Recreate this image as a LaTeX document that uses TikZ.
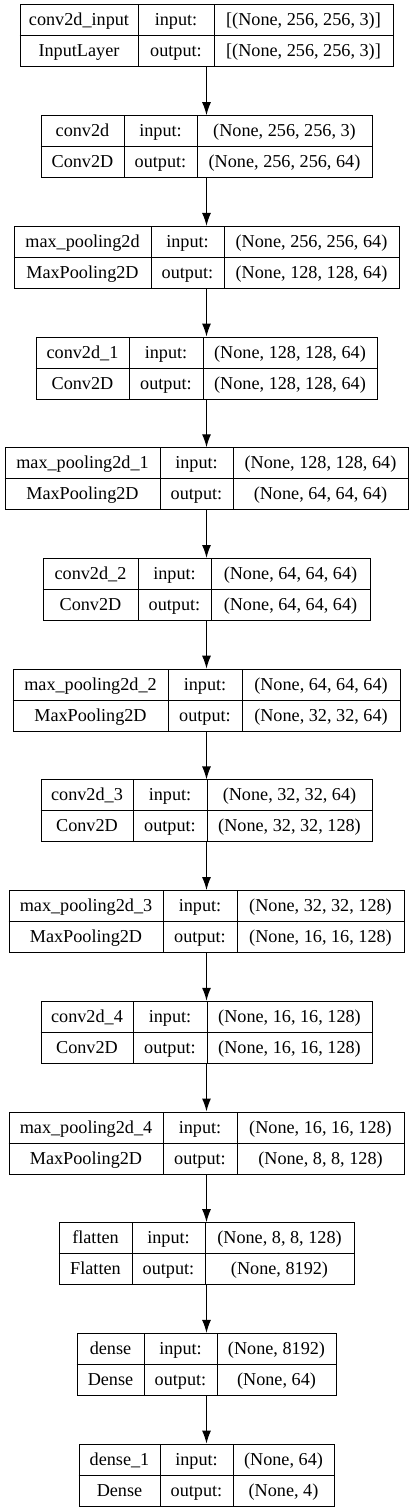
\documentclass[tikz,border=0pt]{standalone}
\usepackage{fontspec}
\setmainfont{Liberation Serif}
\usetikzlibrary{arrows.meta}

\tikzset{
	record/.style={draw, line width=1pt, minimum height=62pt, inner sep=0pt},
	cell/.style={inner sep=0pt, anchor=base, font=\fontsize{18.2}{20}\selectfont},
	flow/.style={-{Latex[length=13pt,width=9pt]}, line width=1.2pt},
}

\begin{document}
\begin{tikzpicture}[x=1pt, y=-1pt]
	\useasboundingbox (0,0) rectangle (413,1512);
	% one record per layer: name / left edge / column dividers / texts
	\foreach \nm/\lx/\da/\db/\lname/\lcls/\shin/\shout [count=\k from 0] in {
		inp/20/138/214/conv2d\_input/InputLayer/{[(None, 256, 256, 3)]}/{[(None, 256, 256, 3)]},
		conv0/41/124/197/conv2d/Conv2D/{(None, 256, 256, 3)}/{(None, 256, 256, 64)},
		pool0/14/151/224/max\_pooling2d/MaxPooling2D/{(None, 256, 256, 64)}/{(None, 128, 128, 64)},
		conv1/36/129/203/conv2d\_1/Conv2D/{(None, 128, 128, 64)}/{(None, 128, 128, 64)},
		pool1/5/160/233/max\_pooling2d\_1/MaxPooling2D/{(None, 128, 128, 64)}/{(None, 64, 64, 64)},
		conv2/43/138/211/conv2d\_2/Conv2D/{(None, 64, 64, 64)}/{(None, 64, 64, 64)},
		pool2/13/168/242/max\_pooling2d\_2/MaxPooling2D/{(None, 64, 64, 64)}/{(None, 32, 32, 64)},
		conv3/41/133/207/conv2d\_3/Conv2D/{(None, 32, 32, 64)}/{(None, 32, 32, 128)},
		pool3/9/163/237/max\_pooling2d\_3/MaxPooling2D/{(None, 32, 32, 128)}/{(None, 16, 16, 128)},
		conv4/41/133/207/conv2d\_4/Conv2D/{(None, 16, 16, 128)}/{(None, 16, 16, 128)},
		pool4/9/163/237/max\_pooling2d\_4/MaxPooling2D/{(None, 16, 16, 128)}/{(None, 8, 8, 128)},
		flat/59/132/205/flatten/Flatten/{(None, 8, 8, 128)}/{(None, 8192)},
		dense0/77/144/217/dense/Dense/{(None, 8192)}/{(None, 64)},
		dense1/79/160/233/dense\_1/Dense/{(None, 64)}/{(None, 4)}%
	}{
		\pgfmathsetmacro\ty{5+110.7*\k}
		\pgfmathsetmacro\bw{413-2*\lx}
		\pgfmathsetmacro\rx{413-\lx}
		\node[record, minimum width=\bw pt] (\nm) at (206.5, \ty+31) {};
		\draw[line width=1pt]
			(\nm.west) -- (\nm.east)
			(\da, \ty) -- (\da, \ty+62)
			(\db, \ty) -- (\db, \ty+62);
		\node[cell] (\nm-name)  at ({(\lx+\da)/2}, \ty+21) {\lname};
		\node[cell] (\nm-cls)   at ({(\lx+\da)/2}, \ty+52) {\lcls};
		\node[cell] (\nm-inl)   at ({(\da+\db)/2}, \ty+21) {input:};
		\node[cell] (\nm-outl)  at ({(\da+\db)/2}, \ty+52) {output:};
		\node[cell] (\nm-in)    at ({(\db+\rx)/2}, \ty+21) {\shin};
		\node[cell] (\nm-out)   at ({(\db+\rx)/2}, \ty+52) {\shout};
	}
	\foreach \u/\v in {inp/conv0, conv0/pool0, pool0/conv1, conv1/pool1, pool1/conv2,
		conv2/pool2, pool2/conv3, conv3/pool3, pool3/conv4, conv4/pool4,
		pool4/flat, flat/dense0, dense0/dense1}
		\draw[flow] (\u) -- (\v);
\end{tikzpicture}
\end{document}
